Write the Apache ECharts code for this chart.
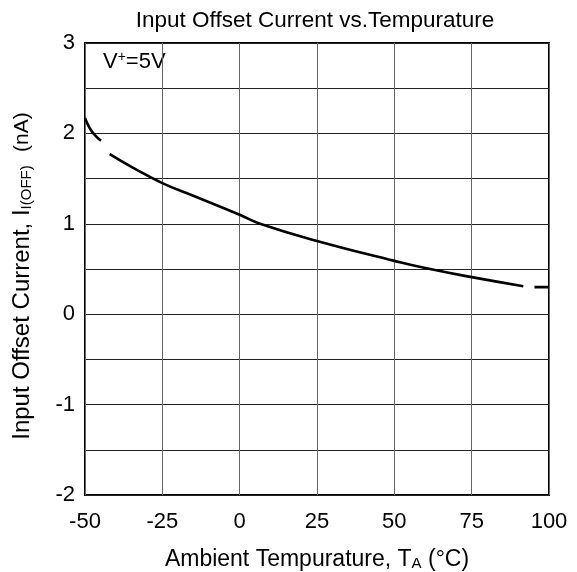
<!DOCTYPE html>
<html><head><meta charset="utf-8">
<script src="https://cdn.jsdelivr.net/npm/echarts@6/dist/echarts.min.js"></script>
<style>html,body{margin:0;padding:0;background:#fff}#c{width:577px;height:572px}</style>
</head><body><div id="c"></div>
<script>
const xTicks = [-50, -25, 0, 25, 50, 75, 100];
const yTicks = [-2, -1, 0, 1, 2, 3];
// curve segments (dashed ends), null marks a gap
const tempA = [-50, -48.5, -46.5, -44.8];
const curA  = [2.17, 2.06, 1.97, 1.92];
const tempB = [-42, -35, -25, -15, 0, 6.6, 25, 50, 60, 75, 91.7];
const curB  = [1.77, 1.63, 1.45, 1.31, 1.1, 1.0, 0.81, 0.59, 0.51, 0.41, 0.31];
const tempC = [95.3, 100];
const curC  = [0.30, 0.30];

const seg = (t, v) => t.map((x, i) => [x, v[i]]);
const data = [].concat(seg(tempA, curA), [[-43.4, null]], seg(tempB, curB), [[93.5, null]], seg(tempC, curC));

const chart = echarts.init(document.getElementById('c'), null, {renderer: 'canvas'});
const font = 'Liberation Sans, Arial, sans-serif';
chart.setOption({
  animation: false,
  backgroundColor: '#fff',
  title: {
    text: 'Input Offset Current vs.Tempurature',
    left: 310, top: 4, textAlign: 'center',
    textStyle: {fontFamily: font, fontSize: 22.5, fontWeight: 'normal', color: '#000'}
  },
  grid: {left: 85, right: 28, top: 43, bottom: 77, show: true, borderColor: '#000', borderWidth: 2,
    containLabel: false, outerBoundsMode: 'none'},
  xAxis: {
    type: 'value', min: -50, max: 100, interval: 25,
    axisLine: {show: false}, axisTick: {show: false},
    splitLine: {show: true, lineStyle: {color: '#666', width: 1}},
    axisLabel: {fontFamily: font, fontSize: 22, color: '#000', margin: 16,
      formatter: v => xTicks.includes(v) ? String(v) : ''},
    name: '{n|Ambient Tempurature, T}{s|A}{n| (°C)}',
    nameLocation: 'middle', nameGap: 53,
    nameTextStyle: {rich: {
      n: {fontFamily: font, fontSize: 23, color: '#000'},
      s: {fontFamily: font, fontSize: 15, color: '#000', verticalAlign: 'bottom', padding: [8, 0, 0, 0]}
    }}
  },
  yAxis: {
    type: 'value', min: -2, max: 3, interval: 0.5,
    axisLine: {show: false}, axisTick: {show: false},
    splitLine: {show: true, lineStyle: {color: '#222', width: 1}},
    axisLabel: {fontFamily: font, fontSize: 22, color: '#000', margin: 10,
      formatter: v => yTicks.includes(v) ? String(v) : ''},
    name: '{n|Input Offset Current, I}{s|I(OFF)}{n|  }{u|(nA)}',
    nameLocation: 'middle', nameGap: 51, nameRotate: 90,
    nameTextStyle: {padding: [0, 14, 0, 0], rich: {
      n: {fontFamily: font, fontSize: 24, color: '#000'},
      u: {fontFamily: font, fontSize: 21, color: '#000'},
      s: {fontFamily: font, fontSize: 15, color: '#000', verticalAlign: 'bottom', padding: [8, 0, 0, 0]}
    }}
  },
  graphic: [{
    type: 'text', left: 103, top: 50,
    style: {
      text: '{n|V}{p|+}{n|=5V}',
      rich: {
        n: {fontFamily: font, fontSize: 22, fill: '#000'},
        p: {fontFamily: font, fontSize: 14, fill: '#000', verticalAlign: 'top', padding: [0, 0, 10, 0]}
      }
    }
  }],
  series: [{
    type: 'line', data: data, smooth: true, showSymbol: false, connectNulls: false,
    lineStyle: {color: '#000', width: 2.6}
  }]
});
</script></body></html>
